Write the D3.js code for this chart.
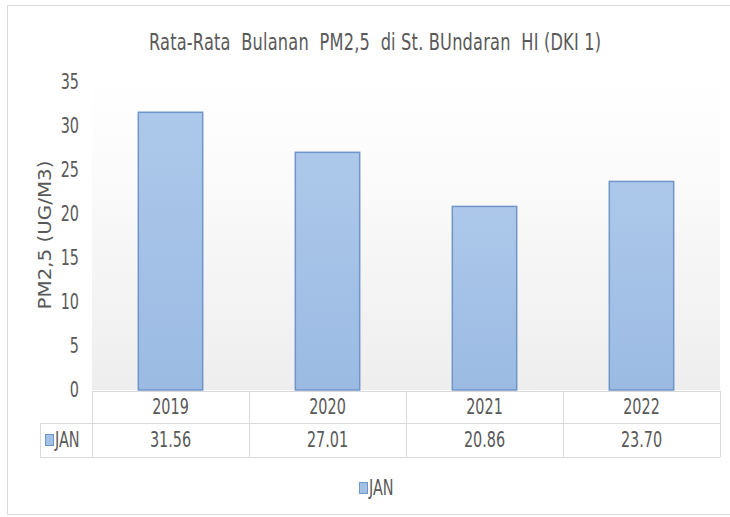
<!DOCTYPE html>
<html>
<head>
<meta charset="utf-8">
<script src="https://cdn.jsdelivr.net/npm/d3@7"></script>
<style>
  body { margin: 0; background: #fff; }
  text { font-family: "DejaVu Sans Condensed", "Liberation Sans Narrow", "Liberation Sans", sans-serif; fill: #595959; }
</style>
</head>
<body>
<div id="chart"></div>
<script>
// data
var years = ['2019', '2020', '2021', '2022'];
var seriesName = 'JAN';
var janValues = [31.56, 27.01, 20.86, 23.70];
var yTicks = [0, 5, 10, 15, 20, 25, 30, 35];
var titleText = 'Rata-Rata  Bulanan  PM2,5  di St. BUndaran  HI (DKI 1)';
var yLabel = 'PM2,5 (UG/M3)';

var W = 730, H = 517;
var plot = {left: 92, right: 720, top: 82, bottom: 390};
var SY = 1.3; // the reference text is drawn tall and narrow

var svg = d3.select('#chart').append('svg')
    .attr('width', W)
    .attr('height', H);

// puts a text at x,y stretched vertically
function tallText(x, y, str, size, anchor) {
  return svg.append('text')
      .attr('transform', 'translate(' + x + ',' + y + ') scale(1,' + SY + ')')
      .attr('text-anchor', anchor || 'middle')
      .style('font-size', size + 'px')
      .style('white-space', 'pre')
      .text(str);
}

var defs = svg.append('defs');
var bg = defs.append('linearGradient').attr('id', 'bgGrad')
    .attr('x1', 0).attr('y1', 0).attr('x2', 0).attr('y2', 1);
bg.append('stop').attr('offset', '0%').attr('stop-color', '#ffffff');
bg.append('stop').attr('offset', '25%').attr('stop-color', '#fcfcfc');
bg.append('stop').attr('offset', '100%').attr('stop-color', '#eeeeee');

var barGrad = defs.append('linearGradient').attr('id', 'barGrad')
    .attr('x1', 0).attr('y1', 0).attr('x2', 0).attr('y2', 1);
barGrad.append('stop').attr('offset', '0%').attr('stop-color', '#adc8ea');
barGrad.append('stop').attr('offset', '100%').attr('stop-color', '#9bbbe3');

// outer chart border
svg.append('rect')
    .attr('x', 7.5).attr('y', 5.5)
    .attr('width', 740).attr('height', 509)
    .attr('fill', '#fff')
    .attr('stroke', '#d9d9d9');

// plot background
svg.append('rect')
    .attr('x', plot.left).attr('y', plot.top - 10)
    .attr('width', plot.right - plot.left)
    .attr('height', plot.bottom - plot.top + 10)
    .attr('fill', 'url(#bgGrad)');

var x = d3.scaleBand()
    .domain(years)
    .range([plot.left, plot.right])
    .padding(0);

var y = d3.scaleLinear()
    .domain([0, 35])
    .range([plot.bottom, plot.top]);

var barW = x.bandwidth() * 0.41;

// title
tallText(375, 50, titleText, 18).attr('textLength', 452);

// y tick labels
yTicks.forEach(function(t) {
  tallText(79, y(t) + 7, String(t), 16, 'end');
});

svg.append('text')
    .attr('transform', 'translate(51,235) rotate(-90) scale(' + SY + ',1)')
    .attr('text-anchor', 'middle')
    .style('font-size', '17px')
    .text(yLabel);

// bars
svg.selectAll('.bar')
    .data(janValues)
    .enter()
    .append('rect')
    .attr('class', 'bar')
    .attr('x', function(d, i) { return x(years[i]) + (x.bandwidth() - barW) / 2; })
    .attr('y', function(d) { return y(d); })
    .attr('width', barW)
    .attr('height', function(d) { return y(0) - y(d); })
    .attr('fill', 'url(#barGrad)')
    .attr('stroke', '#6f96c8')
    .attr('stroke-width', 1.5);

// data table
var row1 = 391, row2 = 423, row3 = 457, tableLeft = 40;
var tbl = svg.append('g')
    .attr('stroke', '#d9d9d9')
    .attr('stroke-width', 1)
    .attr('shape-rendering', 'crispEdges');
tbl.append('line').attr('x1', plot.left).attr('x2', plot.right).attr('y1', row1).attr('y2', row1);
tbl.append('line').attr('x1', tableLeft).attr('x2', plot.right).attr('y1', row2).attr('y2', row2);
tbl.append('line').attr('x1', tableLeft).attr('x2', plot.right).attr('y1', row3).attr('y2', row3);
tbl.append('line').attr('x1', tableLeft).attr('x2', tableLeft).attr('y1', row2).attr('y2', row3);
tbl.selectAll('.vline')
    .data(years.concat(['end']))
    .enter()
    .append('line')
    .attr('x1', function(d, i) { return i < years.length ? x(d) : plot.right; })
    .attr('x2', function(d, i) { return i < years.length ? x(d) : plot.right; })
    .attr('y1', row1).attr('y2', row3);

years.forEach(function(yr, i) {
  tallText(x(yr) + x.bandwidth() / 2, 414, yr, 16);
  tallText(x(yr) + x.bandwidth() / 2, 447, janValues[i].toFixed(2), 16);
});

// legend key inside table
svg.append('rect')
    .attr('x', 45.5).attr('y', 434.5).attr('width', 8).attr('height', 11)
    .attr('fill', '#a3c0e6').attr('stroke', '#6f96c8');
tallText(55, 447, seriesName, 16, 'start');

// bottom legend
svg.append('rect')
    .attr('x', 359.5).attr('y', 482.5).attr('width', 8).attr('height', 11)
    .attr('fill', '#a3c0e6').attr('stroke', '#6f96c8');
tallText(369, 495, seriesName, 16, 'start');
</script>
</body>
</html>
